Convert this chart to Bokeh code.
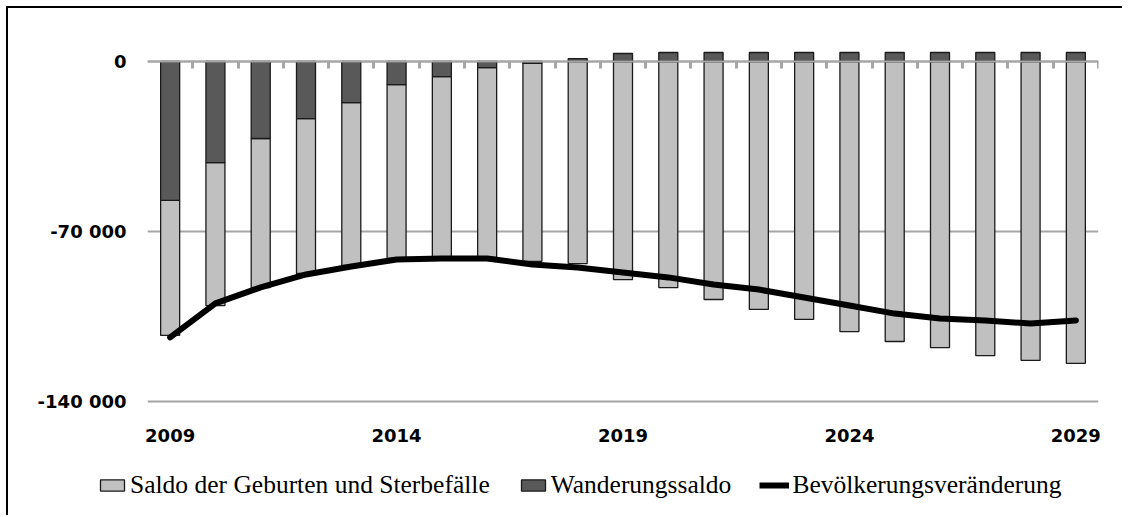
import numpy as np
from bokeh.plotting import figure
from bokeh.models import (Range1d, FixedTicker, LinearAxis, Legend, LegendItem,
                          ColumnDataSource, Grid)
from bokeh.embed import file_html
from bokeh.resources import INLINE

# ---- data ----
years = list(range(2009, 2030))
natural = [-55600, -58900, -61400, -63800, -67100, -71600, -74500, -78200, -81500,
           -83200, -89800, -93100, -98000, -102100, -106200, -111200, -115300,
           -117800, -121100, -123100, -124300]
migration = [-57200, -41600, -31700, -23500, -16900, -9500, -6200, -2500, -800,
             1200, 3300, 3700, 3700, 3700, 3700, 3700, 3700, 3700, 3700, 3700, 3700]
change = [-113600, -99600, -93000, -87700, -84400, -81500, -81100, -81100, -83600,
          -84800, -86900, -88900, -91800, -93900, -97200, -100500, -103800,
          -105800, -106600, -107900, -106600]
y_ticks = [-140000, -70000, 0]
label_years = years[::5]
series_names = ["Saldo der Geburten und Sterbefälle", "Wanderungssaldo",
                "Bevölkerungsveränderung"]

# ---- derived stacking ----
mig = np.array(migration, dtype=float)
nat = np.array(natural, dtype=float)
dark_top = np.maximum(mig, 0)
dark_bottom = np.minimum(mig, 0)
light_top = np.minimum(mig, 0)
light_bottom = light_top + nat

src = ColumnDataSource(dict(x=years, dt=dark_top, db=dark_bottom,
                            lt=light_top, lb=light_bottom, chg=change))

LIGHT = "#C0C0C0"
DARK = "#595959"
GRIDC = "#A6A6A6"
EDGE = "#1a1a1a"

p = figure(width=1116, height=460,
           x_range=Range1d(2008.5, 2029.5), y_range=Range1d(-142059, 12765),
           x_axis_type=None, y_axis_type=None,
           output_backend="svg", toolbar_location=None,
           min_border_left=139, min_border_right=26,
           min_border_top=22, min_border_bottom=62)
p.outline_line_color = None
p.background_fill_color = "white"
p.border_fill_color = "white"
p.styles = {"border-top": "2px solid black", "border-left": "2px solid black",
            "margin-left": "6px", "margin-top": "6px"}

# grid
grid = Grid(dimension=1, ticker=FixedTicker(ticks=y_ticks),
            grid_line_color=GRIDC, grid_line_width=2)
p.add_layout(grid)

# bars
bw = 0.42
r_light = p.vbar(x="x", top="lt", bottom="lb", width=bw, source=src,
                 fill_color=LIGHT, line_color=EDGE, line_width=1.3)
r_dark = p.vbar(x="x", top="dt", bottom="db", width=bw, source=src,
                fill_color=DARK, line_color=EDGE, line_width=1.3)

# population change line
r_line = p.line(x="x", y="chg", source=src, line_color="black", line_width=6,
                line_join="round", line_cap="round")

# left axis
yax = LinearAxis(ticker=FixedTicker(ticks=y_ticks),
                 major_label_overrides={t: (f"{t:,}".replace(",", " ")) for t in y_ticks},
                 axis_line_color=None, major_tick_line_color=None,
                 minor_tick_line_color=None, major_tick_out=0, major_tick_in=0,
                 major_label_standoff=21,
                 major_label_text_font="DejaVu Sans",
                 major_label_text_font_style="bold",
                 major_label_text_font_size="18px",
                 major_label_text_color="black")
p.add_layout(yax, "left")

# bottom year labels
xax = LinearAxis(ticker=FixedTicker(ticks=label_years),
                 major_label_overrides={y: str(y) for y in label_years},
                 axis_line_color=None, major_tick_line_color=None,
                 minor_tick_line_color=None, major_tick_out=0, major_tick_in=0,
                 major_label_standoff=22,
                 major_label_text_font="DejaVu Sans",
                 major_label_text_font_style="bold",
                 major_label_text_font_size="18px",
                 major_label_text_color="black")
p.add_layout(xax, "below")

# zero line axis with ticks between categories
bounds = [y + 0.5 for y in years]
zax = LinearAxis(fixed_location=0, ticker=FixedTicker(ticks=bounds),
                 major_label_overrides={b: "" for b in bounds},
                 axis_line_color=GRIDC, axis_line_width=2,
                 major_tick_line_color=GRIDC, major_tick_line_width=3,
                 major_tick_out=7, major_tick_in=0,
                 minor_tick_line_color=None,
                 major_label_text_color=None, major_label_standoff=0)
p.add_layout(zax, "below")

# ---- legend strip (separate root under the chart) ----
# its ranges lie away from the data, so only the legend swatches show
lg = figure(width=1116, height=49, x_range=Range1d(0, 1), y_range=Range1d(0, 1),
            x_axis_type=None, y_axis_type=None,
            output_backend="svg", toolbar_location=None,
            min_border_left=0, min_border_right=0,
            min_border_top=0, min_border_bottom=0)
lg.outline_line_color = None
lg.background_fill_color = "white"
lg.border_fill_color = "white"
lg.styles = {"border-left": "2px solid black", "margin-left": "6px"}

k_light = lg.vbar(x="x", top="lt", bottom="lb", width=bw, source=src,
                  fill_color=LIGHT, line_color=EDGE, line_width=1.3)
k_dark = lg.vbar(x="x", top="dt", bottom="db", width=bw, source=src,
                 fill_color=DARK, line_color=EDGE, line_width=1.3)
k_line = lg.line(x="x", y="chg", source=src, line_color="black", line_width=6)

legend = Legend(items=[LegendItem(label=series_names[0], renderers=[k_light]),
                       LegendItem(label=series_names[1], renderers=[k_dark]),
                       LegendItem(label=series_names[2], renderers=[k_line])],
                location=(89, 15), orientation="horizontal",
                glyph_width=30, glyph_height=14, label_standoff=3, spacing=28,
                padding=0, margin=0, border_line_color=None,
                background_fill_alpha=0,
                label_text_font="Liberation Serif", label_text_font_size="25.5px",
                label_text_color="black")
lg.add_layout(legend)

open("out.html", "w").write(file_html([p, lg], INLINE))
